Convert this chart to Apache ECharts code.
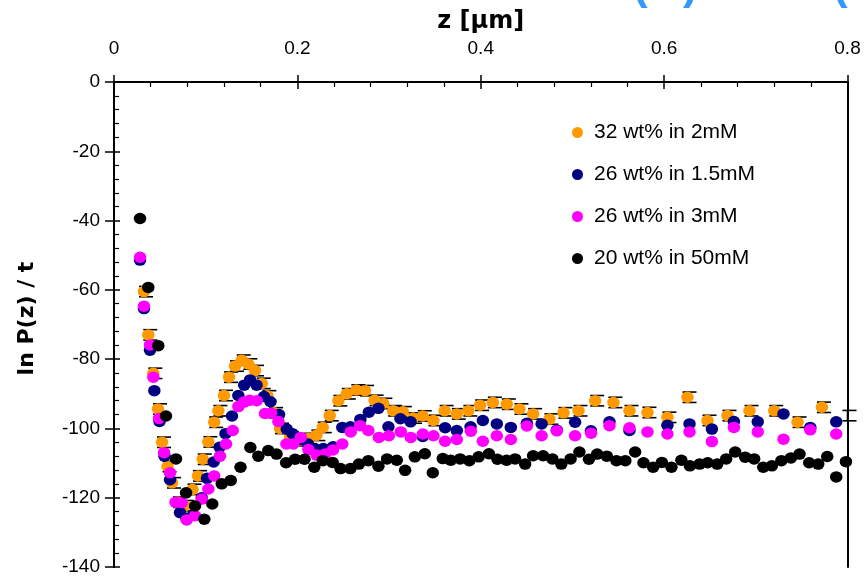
<!DOCTYPE html>
<html>
<head>
<meta charset="utf-8">
<script src="https://cdn.jsdelivr.net/npm/echarts@6/dist/echarts.min.js"></script>
<style>html,body{margin:0;padding:0;background:#fff;}#c{width:866px;height:577px;}</style>
</head>
<body>
<div id="c"></div>
<script>
// ---- data (z in µm, ln P(z)/t) ----
const orangeZ = [0.0327,0.0374,0.0429,0.0480,0.0524,0.0584,0.0633,0.0698,0.0775,0.0856,0.0916,0.0968,0.1029,0.1093,0.1138,0.1200,0.1255,0.1320,0.1393,0.1465,0.1538,0.1611,0.1673,0.1746,0.1811,0.1920,0.2018,0.2120,0.2207,0.2277,0.2353,0.2447,0.2539,0.2643,0.2738,0.2842,0.2938,0.3044,0.3150,0.3262,0.3368,0.3484,0.3606,0.3739,0.3865,0.3993,0.4132,0.4284,0.4422,0.4571,0.4749,0.4902,0.5066,0.5248,0.5447,0.5622,0.5818,0.6036,0.6255,0.6473,0.6691,0.6931,0.7201,0.7455,0.7721];
const orangeV = [-60.5,-73.0,-84.1,-94.4,-104.0,-111.0,-115.7,-121.3,-122.3,-117.6,-113.7,-108.9,-103.9,-98.2,-94.9,-90.5,-85.2,-82.0,-80.3,-81.4,-83.3,-87.0,-90.6,-95.5,-100.0,-102.5,-103.6,-102.9,-102.0,-99.7,-96.3,-92.0,-90.0,-88.9,-89.1,-91.9,-92.8,-94.9,-95.2,-97.0,-96.4,-97.7,-94.9,-95.8,-94.9,-93.3,-92.5,-93.0,-94.4,-95.8,-97.3,-95.5,-94.9,-92.0,-92.5,-94.9,-95.4,-96.8,-91.0,-97.7,-96.3,-94.9,-94.9,-98.2,-93.9];
const orangeEdgeZ = [0.8];
const orangeEdgeV = [-96.3];
const orangeErrHalf = 1.5;

const blueZ = [0.0284,0.0327,0.0393,0.0440,0.0496,0.0551,0.0611,0.0720,0.0791,0.0862,0.0957,0.1015,0.1087,0.1152,0.1216,0.1287,0.1356,0.1420,0.1484,0.1555,0.1636,0.1707,0.1800,0.1884,0.1947,0.2029,0.2117,0.2204,0.2283,0.2389,0.2490,0.2578,0.2687,0.2780,0.2884,0.2993,0.3124,0.3235,0.3368,0.3611,0.3739,0.3889,0.4023,0.4175,0.4328,0.4503,0.4664,0.4830,0.5029,0.5202,0.5404,0.5622,0.6036,0.6277,0.6521,0.6761,0.7021,0.7302,0.7594,0.7877];
const blueV = [-51.4,-65.4,-77.4,-89.1,-98.0,-108.0,-114.8,-124.3,-126.0,-125.0,-120.0,-114.4,-109.7,-105.4,-101.5,-96.4,-90.5,-87.5,-86.0,-87.5,-90.8,-92.3,-96.0,-100.2,-101.5,-103.3,-104.5,-106.0,-105.8,-105.3,-99.7,-99.5,-97.4,-95.3,-94.2,-99.5,-97.2,-98.1,-102.3,-99.8,-100.6,-99.5,-97.7,-98.7,-99.7,-98.5,-98.7,-100.5,-98.2,-100.7,-98.1,-100.6,-99.1,-98.7,-100.2,-98.0,-98.1,-95.8,-99.7,-98.1];

const magentaZ = [0.0284,0.0327,0.0393,0.0429,0.0491,0.0546,0.0611,0.0671,0.0739,0.0793,0.0884,0.0957,0.1029,0.1093,0.1156,0.1222,0.1295,0.1356,0.1418,0.1479,0.1557,0.1647,0.1713,0.1793,0.1880,0.1956,0.2037,0.2120,0.2209,0.2302,0.2389,0.2490,0.2582,0.2684,0.2774,0.2889,0.2998,0.3128,0.3237,0.3368,0.3484,0.3611,0.3739,0.3892,0.4023,0.4175,0.4328,0.4503,0.4664,0.4830,0.5029,0.5204,0.5404,0.5622,0.5818,0.6036,0.6277,0.6521,0.6761,0.7021,0.7302,0.7594,0.7877];
const magentaV = [-50.6,-64.7,-75.9,-85.2,-97.1,-107.0,-112.8,-121.3,-121.4,-126.4,-125.2,-120.4,-117.5,-113.7,-108.0,-104.5,-100.6,-93.7,-92.4,-91.9,-92.0,-95.7,-95.6,-98.0,-104.5,-104.5,-102.6,-106.1,-107.7,-107.4,-106.2,-104.5,-101.0,-99.2,-100.6,-102.6,-102.1,-101.0,-102.6,-101.6,-102.1,-103.7,-103.2,-100.8,-103.7,-102.1,-103.2,-99.3,-102.1,-100.7,-102.1,-101.4,-99.2,-99.8,-101.0,-101.6,-101.0,-103.8,-99.7,-101.0,-103.1,-100.4,-101.6];

const blackZ = [0.0284,0.0374,0.0483,0.0567,0.0676,0.0786,0.0884,0.0985,0.1072,0.1175,0.1273,0.1380,0.1487,0.1574,0.1683,0.1773,0.1877,0.1975,0.2078,0.2184,0.2277,0.2384,0.2471,0.2578,0.2671,0.2774,0.2884,0.2978,0.3084,0.3175,0.3281,0.3390,0.3477,0.3586,0.3673,0.3775,0.3876,0.3977,0.4089,0.4182,0.4282,0.4375,0.4484,0.4571,0.4680,0.4781,0.4879,0.4980,0.5076,0.5180,0.5270,0.5375,0.5480,0.5577,0.5684,0.5775,0.5880,0.5975,0.6080,0.6188,0.6281,0.6386,0.6475,0.6579,0.6677,0.6775,0.6884,0.6982,0.7081,0.7175,0.7279,0.7383,0.7477,0.7582,0.7681,0.7779,0.7877,0.7983];
const blackV = [-39.4,-59.3,-76.1,-96.4,-108.8,-118.6,-122.4,-126.2,-121.8,-116.0,-115.0,-111.2,-105.5,-108.0,-106.4,-107.4,-109.9,-108.9,-108.9,-111.2,-109.3,-109.8,-111.6,-111.6,-110.3,-109.3,-110.9,-108.8,-109.2,-112.1,-108.2,-107.3,-112.8,-108.7,-109.2,-108.8,-109.3,-108.2,-107.3,-108.9,-109.2,-108.8,-110.3,-107.9,-107.9,-108.8,-110.3,-108.8,-106.8,-108.9,-107.4,-108.0,-109.3,-109.3,-106.8,-109.9,-111.2,-109.8,-111.2,-109.2,-110.8,-110.3,-109.9,-110.3,-108.8,-106.8,-108.3,-108.8,-111.2,-110.8,-109.3,-108.5,-107.4,-109.9,-110.3,-108.1,-114.0,-109.6];

const seriesNames = ['32 wt% in 2mM','26 wt% in 1.5mM','26 wt% in 3mM','20 wt% in 50mM'];
const seriesColors = ['#FF9900','#000080','#FF00FF','#000000'];
const xTicks = [0, 0.2, 0.4, 0.6, 0.8];
const yTicks = [0, -20, -40, -60, -80, -100, -120, -140];

const zip = (a, b) => a.map((v, i) => [v, b[i]]);
const FONT = 'Liberation Sans, Arial, sans-serif';
const BFONT = 'DejaVu Sans, Liberation Sans, sans-serif';

const chart = echarts.init(document.getElementById('c'));

function errRender(params, api) {
  const z = api.value(0), v = api.value(1);
  const hi = api.coord([z, v + orangeErrHalf]);
  const lo = api.coord([z, v - orangeErrHalf]);
  const st = {stroke: '#000', lineWidth: 1.6};
  const capL = -5, capR = 9;
  return {type: 'group', children: [
    {type: 'line', shape: {x1: hi[0], y1: hi[1], x2: lo[0], y2: lo[1]}, style: st},
    {type: 'line', shape: {x1: hi[0] + capL, y1: hi[1], x2: hi[0] + capR, y2: hi[1]}, style: st},
    {type: 'line', shape: {x1: lo[0] + capL, y1: lo[1], x2: lo[0] + capR, y2: lo[1]}, style: st}
  ]};
}

const sym = [12.5, 11.5];
const scat = (name, color, data, z) => ({
  name, type: 'scatter', data, symbol: 'circle', symbolSize: sym,
  itemStyle: {color, opacity: 1}, clip: false, z, silent: true,
  emphasis: {disabled: true}
});

const axLine = {show: true, lineStyle: {color: '#000', width: 2}};

chart.setOption({
  animation: false,
  backgroundColor: '#fff',
  grid: {left: 114, right: 18.5, top: 82, bottom: 10, containLabel: false},
  legend: {
    orient: 'vertical', left: 567, top: 117, itemGap: 21,
    itemWidth: 11, itemHeight: 11, icon: 'circle',
    data: seriesNames,
    textStyle: {fontFamily: FONT, fontSize: 21, color: '#000', lineHeight: 20, padding: [0, 0, 0, 6]},
    selectedMode: false
  },
  xAxis: [
    {type: 'value', position: 'top', min: xTicks[0], max: xTicks[xTicks.length - 1], interval: 0.2,
     name: 'z [\u03bcm]', nameLocation: 'middle', nameGap: 48,
     nameTextStyle: {fontFamily: BFONT, fontSize: 24, fontWeight: 'bold', color: '#000'},
     axisLine: axLine, axisTick: {show: true, inside: false, length: 7, lineStyle: {color: '#000', width: 1.5}},
     axisLabel: {show: true, margin: 24, fontFamily: FONT, fontSize: 19, color: '#000',
       formatter: v => String(v)},
     splitLine: {show: false}},
    {type: 'value', position: 'top', min: xTicks[0], max: xTicks[xTicks.length - 1], interval: 0.2,
     axisLine: axLine, axisTick: {show: true, inside: true, length: 7, lineStyle: {color: '#000', width: 1.5}},
     minorTick: {show: true, splitNumber: 5, length: 5, lineStyle: {color: '#000', width: 1.2}},
     axisLabel: {show: false}, splitLine: {show: false}}
  ],
  yAxis: [
    {type: 'value', position: 'left', min: yTicks[yTicks.length - 1], max: yTicks[0], interval: 20,
     name: 'ln P(z) / t', nameLocation: 'middle', nameGap: 76, nameRotate: 90,
     nameTextStyle: {fontFamily: BFONT, fontSize: 22, fontWeight: 'bold', color: '#000', padding: [0, 0, 0, 12]},
     axisLine: axLine, axisTick: {show: true, inside: false, length: 9, lineStyle: {color: '#000', width: 1.5}},
     axisLabel: {show: true, margin: 14, fontFamily: FONT, fontSize: 19, color: '#000'},
     splitLine: {show: false}},
    {type: 'value', position: 'left', min: yTicks[yTicks.length - 1], max: yTicks[0], interval: 20,
     axisLine: axLine, axisTick: {show: true, inside: true, length: 6, lineStyle: {color: '#000', width: 1.5}},
     minorTick: {show: true, splitNumber: 5, length: 5, lineStyle: {color: '#000', width: 1.2}},
     axisLabel: {show: false}, splitLine: {show: false}},
    {type: 'value', position: 'right', min: yTicks[yTicks.length - 1], max: yTicks[0], interval: 20,
     axisLine: axLine, axisTick: {show: false}, axisLabel: {show: false}, splitLine: {show: false}}
  ],
  graphic: [
    {type: 'text', left: 633, top: -35, style: {text: '(', font: 'bold 44px ' + FONT, fill: '#3399FF'}},
    {type: 'text', left: 683, top: -35, style: {text: ')', font: 'bold 44px ' + FONT, fill: '#3399FF'}},
    {type: 'text', left: 833, top: -35, style: {text: '(', font: 'bold 44px ' + FONT, fill: '#3399FF'}}
  ],
  series: [
    {type: 'custom', renderItem: errRender, data: zip(orangeZ, orangeV).concat(zip(orangeEdgeZ, orangeEdgeV)),
     clip: false, z: 1, silent: true},
    scat(seriesNames[0], seriesColors[0], zip(orangeZ, orangeV), 2),
    scat(seriesNames[1], seriesColors[1], zip(blueZ, blueV), 3),
    scat(seriesNames[2], seriesColors[2], zip(magentaZ, magentaV), 4),
    scat(seriesNames[3], seriesColors[3], zip(blackZ, blackV), 5)
  ]
});
</script>
</body>
</html>
